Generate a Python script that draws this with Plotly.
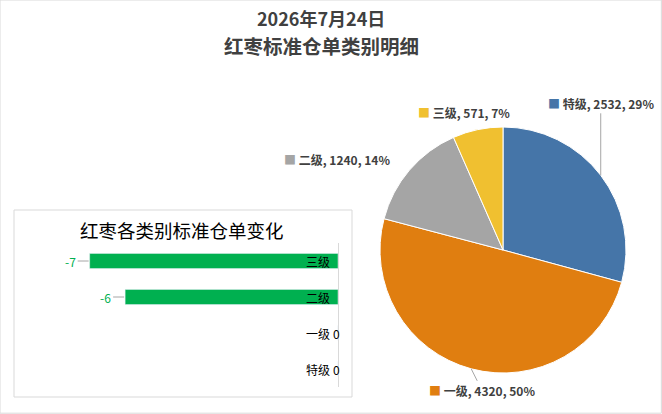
import numpy as np
import plotly.graph_objects as go

# pie data (warehouse receipts by grade)
grades = ['特级', '一级', '二级', '三级']
receipts = [2532, 4320, 1240, 571]
pie_colors = ['#4575A8', '#E07E10', '#A5A5A5', '#F0C030']

# daily change by grade
changes = [0, 0, -6, -7]

W, H = 662, 414
FONT = 'Noto Sans CJK SC'


def px(x, y):
    # pixel -> paper coords (margins are zero)
    return x / W, 1 - y / H


# pie geometry in pixels
cx, cy, r = 503, 250, 123

fig = go.Figure()

fig.add_trace(go.Pie(
    labels=grades, values=receipts, sort=False, direction='clockwise',
    marker=dict(colors=pie_colors, line=dict(color='white', width=1)),
    textinfo='none', hoverinfo='label+value+percent', showlegend=False,
    domain=dict(x=[(cx - r) / W, (cx + r) / W], y=[1 - (cy + r) / H, 1 - (cy - r) / H]),
))

fig.add_trace(go.Bar(
    x=changes, y=grades, orientation='h', marker_color='#00B050',
    width=0.42, showlegend=False, xaxis='x', yaxis='y',
))

annotations = []

# titles
for text, yy, size in [('2026年7月24日', 18.5, 18), ('红枣标准仓单类别明细', 45.5, 19.5)]:
    tx, ty = px(321, yy)
    annotations.append(dict(x=tx, y=ty, xref='paper', yref='paper', showarrow=False,
                            xanchor='center', yanchor='middle', borderpad=0,
                            text=f'<b>{text}</b>',
                            font=dict(family=FONT, size=size, color='#404040')))

# pie labels, anchored on the slice edge at mid angle
total = sum(receipts)
cum = np.cumsum([0] + receipts[:-1])
# (offset x, offset y, draw leader line)
label_offsets = {
    '特级': (0, -72, True),
    '一级': (11, 22, True),
    '二级': (-72, -11, False),
    '三级': (-14, -17, False),
}
for g, v, c0, col in zip(grades, receipts, cum, pie_colors):
    mid = (c0 + v / 2) / total * 2 * np.pi
    ex, ey = cx + r * np.sin(mid), cy - r * np.cos(mid)
    pct = round(v / total * 100)
    txt = f"<span style='color:{col}'>■</span> <b>{g}, {v}, {pct}%</b>"
    dx, dy, line = label_offsets[g]
    xp, yp = px(ex, ey)
    a = dict(x=xp, y=yp, xref='paper', yref='paper', text=txt,
             xanchor='center', yanchor='middle',
             font=dict(family=FONT, size=12, color='#404040'))
    if line:
        a.update(showarrow=True, ax=dx, ay=dy, arrowhead=0, arrowwidth=1,
                 arrowcolor='#A6A6A6', standoff=0)
    else:
        a.update(showarrow=False, xshift=dx, yshift=-dy)
    annotations.append(a)

# bar category labels (inside, left of the axis line) and value labels
for g, v in zip(grades, changes):
    annotations.append(dict(
        x=0, y=g, xref='x', yref='y', text=g, showarrow=False,
        xanchor='right', xshift=-6,
        font=dict(family=FONT, size=12, color='black')))
    if v < 0:
        annotations.append(dict(
            x=v, y=g, xref='x', yref='y', text=str(v), showarrow=True,
            ax=-12, ay=0, xanchor='right', arrowhead=0, arrowwidth=1,
            arrowcolor='#A6A6A6', standoff=1,
            font=dict(family=FONT, size=12, color='#00B050')))
    else:
        annotations.append(dict(
            x=v, y=g, xref='x', yref='y', text=str(v), showarrow=False,
            xanchor='left', xshift=-7,
            font=dict(family=FONT, size=12, color='black')))

# inset title
tx, ty = px(182, 230)
annotations.append(dict(x=tx, y=ty, xref='paper', yref='paper', showarrow=False,
                        xanchor='center', yanchor='middle',
                        text='红枣各类别标准仓单变化',
                        font=dict(family=FONT, size=18.5, color='black')))

ax0, ay0 = px(40, 387)
ax1, ay1 = px(338, 243)
bx0, by0 = px(14, 397)
bx1, by1 = px(352, 210)

fig.update_layout(
    width=W, height=H,
    margin=dict(l=0, r=0, t=0, b=0),
    paper_bgcolor='white', plot_bgcolor='rgba(0,0,0,0)',
    xaxis=dict(domain=[ax0, ax1], range=[-8.4, 0], visible=False, fixedrange=True),
    yaxis=dict(domain=[ay0, ay1], side='right', anchor='x', showline=True,
               linecolor='#D9D9D9', linewidth=1, ticks='', showgrid=False,
               showticklabels=False, zeroline=False, fixedrange=True),
    annotations=annotations,
    shapes=[
        dict(type='rect', xref='paper', yref='paper', x0=bx0, y0=by0, x1=bx1, y1=by1,
             line=dict(color='#D9D9D9', width=1), layer='below'),
        dict(type='rect', xref='paper', yref='paper', x0=0, y0=0.002, x1=0.999, y1=1,
             line=dict(color='#D9D9D9', width=1)),
    ],
)

fig.write_html("out.html", config=dict(displayModeBar=False),
               post_script="document.body.style.margin='0';document.body.style.overflow='hidden';")
